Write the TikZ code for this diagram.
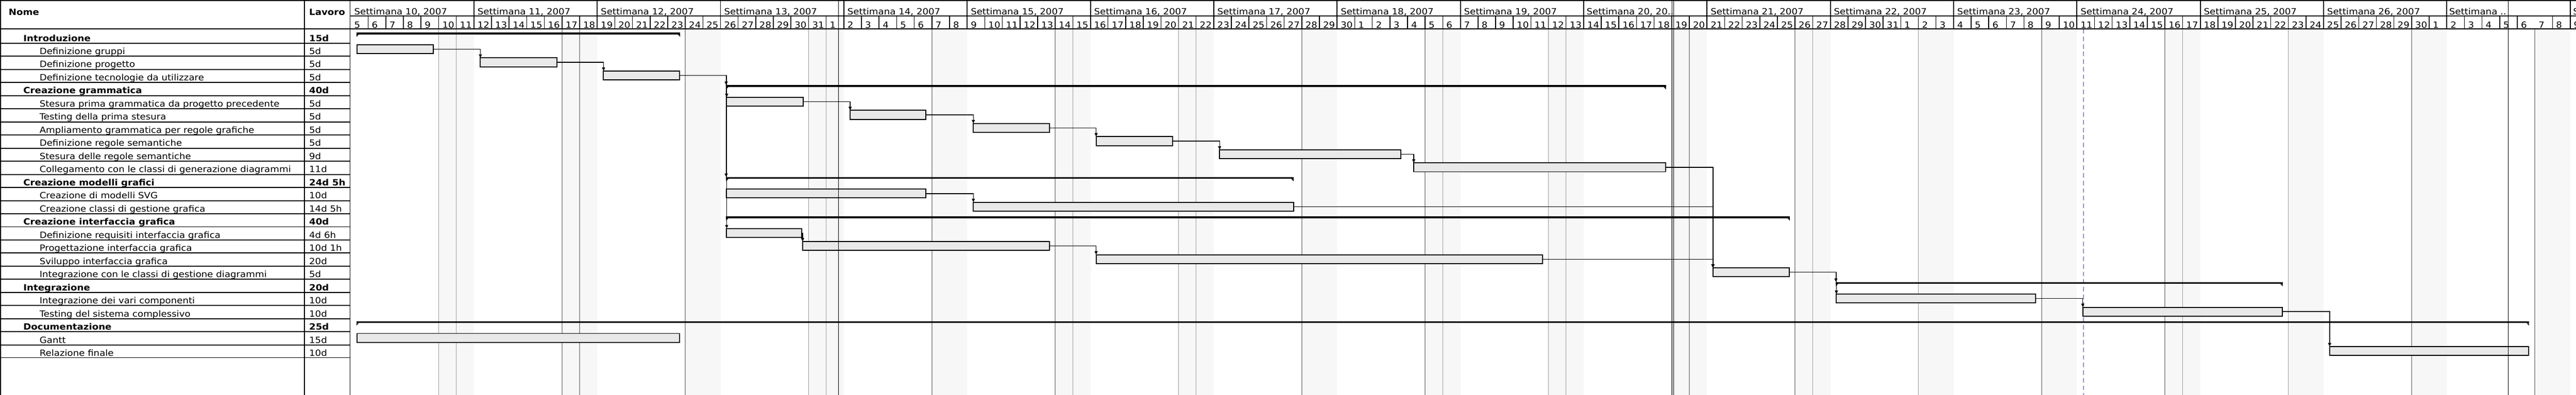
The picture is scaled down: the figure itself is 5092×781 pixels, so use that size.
\documentclass[tikz,border=0pt]{standalone}
\usepackage{fontspec}
\setmainfont[FakeStretch=1.09]{DejaVu Sans}
\usetikzlibrary{arrows.meta}

\definecolor{barfill}{RGB}{233,233,233}
\definecolor{wkshade}{RGB}{247,247,247}
\definecolor{wkline}{RGB}{155,155,155}
\definecolor{today}{RGB}{140,140,255}

\tikzset{
  txt/.style={anchor=base west,inner sep=0pt,font=\fontsize{17}{20}\selectfont},
  taskrow/.style={txt},
  phaserow/.style={txt,font=\fontsize{17}{20}\selectfont\bfseries},
  grid/.style={line width=2pt},
  bar/.style={draw,line width=2pt,fill=barfill,inner sep=0pt,outer sep=0pt,
              anchor=north west,minimum height=17.6pt},
  summ/.style={fill=black,inner sep=0pt,outer sep=0pt,anchor=west,minimum height=3.5pt},
  link/.style={line width=1.5pt,-{Triangle[width=6pt,length=7pt]}},
  seam/.style={line width=1.2pt}
}

% task bar: row, left, right
\newcommand{\taskbar}[3]{%
  \pgfmathsetmacro{\barw}{#3-#2-2}%
  \pgfmathsetmacro{\bary}{62.55+25.95*(#1-1)}%
  \node[bar,minimum width=\barw pt] (b#1) at ({#2+1},\bary) {};}
% summary bar: row, left, right
\newcommand{\phasebar}[3]{%
  \pgfmathsetmacro{\barw}{#3-#2}%
  \pgfmathsetmacro{\bary}{66.3+25.95*(#1-1)}%
  \node[summ,minimum width=\barw pt] (s#1) at (#2,\bary) {};
  \fill (s#1.south west) -- ++(0,5) -- ++(4.5,-5) -- cycle
        (s#1.south east) -- ++(0,5) -- ++(-4.5,-5) -- cycle;}

\begin{document}
\begin{tikzpicture}[x=1pt,y=-1pt]
\useasboundingbox (0,0) rectangle (5092,781);
\clip (0,0) rectangle (5092,781);
\fill[white] (0,0) rectangle (5092,781);

% weekends
\foreach \w in {0,...,17}{
  \fill[wkshade] ({693+34.82*(7*\w+5)},57.3) rectangle ({693+34.82*(7*\w+7)},781);
  \draw[wkline,line width=1.6pt] ({693+34.82*(7*\w+5)},57.3) -- ++(0,724);
}
\foreach \w in {0,1,3,5,6,8,9,10,11,14}
  \draw[wkline,line width=1.6pt] ({693+34.82*(7*\w+6)},57.3) -- ++(0,724);

% today
\draw[today,line width=2.4pt,dash pattern=on 9pt off 6pt] (4118.6,57.3) -- (4118.6,781);

% header
\draw[grid] (0,1) -- (5092,1);
\draw[grid] (692,31.7) -- (5092,31.7);
\draw[grid] (0,57.3) -- (5092,57.3);
\foreach \x in {1,602,692}
  \draw[grid] (\x,0) -- (\x,781);
\foreach \w in {1,...,18}
  \draw[grid] ({693+34.82*7*\w},0) -- ++(0,57.3);
\foreach \k in {1,...,123,125,126}
  \draw[line width=1.6pt] ({693+34.82*\k},31.7) -- ++(0,25.6);

\node[phaserow] (nome) at (17,30) {Nome};
\node[phaserow] (lavoro) at (611,30) {Lavoro};

\foreach \w in {10,...,19,21,22,23,24,25,26}
  \node[txt] (wk\w) at ({700+34.82*7*(\w-10)},29.3) {Settimana \w, 2007};
\node[txt] (wk20) at (3136,29.3) {Settimana 20, 20..};
\node[txt] (wk27) at (4841,29.3) {Settimana ..};
\node[txt] (wk28) at (5086,29.3) {S};

\foreach \m/\a/\b/\o in {3/5/31/0,4/1/30/27,5/1/31/57,6/1/30/88,7/1/9/118}
  \foreach \dd in {\a,...,\b}
    \node[txt] (d\m-\dd) at ({700+34.82*(\o+\dd-\a)},55.5) {\dd};

% table
\foreach \r/\s/\x/\n/\wk in {
  1/phaserow/46/Introduzione/15d,
  2/taskrow/78/Definizione gruppi/5d,
  3/taskrow/78/Definizione progetto/5d,
  4/taskrow/78/Definizione tecnologie da utilizzare/5d,
  5/phaserow/46/Creazione grammatica/40d,
  6/taskrow/78/Stesura prima grammatica da progetto precedente/5d,
  7/taskrow/78/Testing della prima stesura/5d,
  8/taskrow/78/Ampliamento grammatica per regole grafiche/5d,
  9/taskrow/78/Definizione regole semantiche/5d,
  10/taskrow/78/Stesura delle regole semantiche/9d,
  11/taskrow/78/Collegamento con le classi di generazione diagrammi/11d,
  12/phaserow/46/Creazione modelli grafici/24d 5h,
  13/taskrow/78/Creazione di modelli SVG/10d,
  14/taskrow/78/Creazione classi di gestione grafica/14d 5h,
  15/phaserow/46/Creazione interfaccia grafica/40d,
  16/taskrow/78/Definizione requisiti interfaccia grafica/4d 6h,
  17/taskrow/78/Progettazione interfaccia grafica/10d 1h,
  18/taskrow/78/Sviluppo interfaccia grafica/20d,
  19/taskrow/78/Integrazione con le classi di gestione diagrammi/5d,
  20/phaserow/46/Integrazione/20d,
  21/taskrow/78/Integrazione dei vari componenti/10d,
  22/taskrow/78/Testing del sistema complessivo/10d,
  23/phaserow/46/Documentazione/25d,
  24/taskrow/78/Gantt/15d,
  25/taskrow/78/Relazione finale/10d}{
  \node[\s] (t\r) at (\x,{81.5+25.95*(\r-1)}) {\n};
  \node[\s] (w\r) at (611,{81.5+25.95*(\r-1)}) {\wk};
}
\foreach \r in {1,...,24}
  \draw[grid] (0,{85.3+25.95*(\r-1)}) -- (692,{85.3+25.95*(\r-1)});
\draw[line width=1pt] (0,707.1) -- (692,707.1);

% bars
\taskbar{2}{704.5}{857}
\taskbar{3}{948.5}{1101.7}
\taskbar{4}{1192}{1344.5}
\taskbar{6}{1435.4}{1588.3}
\taskbar{7}{1679.5}{1831}
\taskbar{8}{1923}{2075}
\taskbar{9}{2165.7}{2319}
\taskbar{10}{2409.8}{2770.4}
\taskbar{11}{2793.5}{3293}
\taskbar{13}{1435.4}{1831}
\taskbar{14}{1923}{2558.5}
\taskbar{16}{1435.4}{1585.5}
\taskbar{17}{1585.5}{2075}
\taskbar{18}{2165.7}{3050}
\taskbar{19}{3385}{3538}
\taskbar{21}{3629}{4025}
\taskbar{22}{4116}{4512}
\taskbar{24}{704.5}{1344.5}
\taskbar{25}{4604}{4999}

\phasebar{1}{704.5}{1344.5}
\phasebar{5}{1435.4}{3293}
\phasebar{12}{1435.4}{2557}
\phasebar{15}{1435.4}{3538}
\phasebar{20}{3629}{4512}
\phasebar{23}{704.5}{4999}

% links
\draw[link] (b2.east) -| (b3.north west);
\draw[link] (b3.east) -| (b4.north west);
\draw[link] (b4.east) -| (s5.north west);
\draw[link] (b4.east) -| (b6.north west);
\draw[link] (b4.east) -| (s12.north west);
\draw[link] (b4.east) -| (b16.north west);
\draw[link] (b6.east) -| (b7.north west);
\draw[link] (b7.east) -| (b8.north west);
\draw[link] (b8.east) -| (b9.north west);
\draw[link] (b9.east) -| (b10.north west);
\draw[link] (b10.east) -| (b11.north west);
\draw[link] (b13.east) -| (b14.north west);
\draw[link] (b16.east) -| (b17.north west);
\draw[link] (b17.east) -| (b18.north west);
\draw[link] (b11.east) -| (b19.north west);
\draw[link] (b14.east) -| (b19.north west);
\draw[link] (b18.east) -| (b19.north west);
\draw[link] (b19.east) -| (s20.north west);
\draw[link] (b19.east) -| (b21.north west);
\draw[link] (b21.east) -| (b22.north west);
\draw[link] (b22.east) -| (b25.north west);

% seams
\draw[seam] (1657.7,0) -- (1657.7,781);
\draw[seam] (3305.5,0) -- (3305.5,781);
\draw[seam] (3308.5,0) -- (3308.5,781);
\draw[seam] (4958,0) -- (4958,781);
\end{tikzpicture}
\end{document}
